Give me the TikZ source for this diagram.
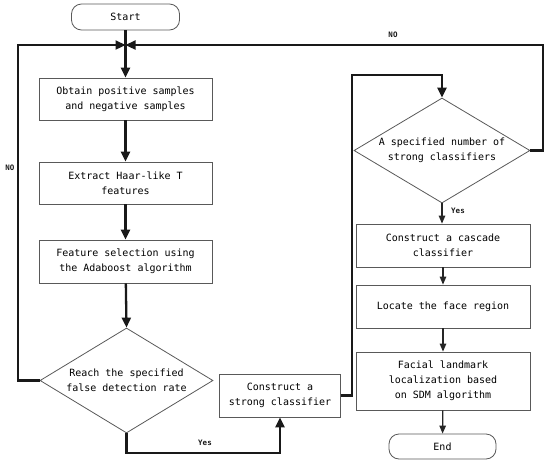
\documentclass[tikz,border=0pt]{standalone}
\usepackage{fontspec}
\setmonofont{DejaVu Sans Mono}
\usetikzlibrary{shapes.geometric,arrows.meta}
\tikzset{
  box/.style={draw=black!65,line width=0.8pt,fill=white,inner sep=0pt,align=center,font=\ttfamily\fontsize{10}{15}\selectfont,text=black},
  term/.style={box,rounded corners=10pt},
  dia/.style={box,shape=diamond,aspect=1.65},
  thk/.style={line width=2.3pt,draw=black!90,-{Triangle[length=10pt,width=9pt]}},
  thkline/.style={line width=2.3pt,draw=black!90},
  thn/.style={line width=1.2pt,draw=black!85,-{Triangle[length=8pt,width=6.5pt]}},
  lbl/.style={font=\ttfamily\bfseries\fontsize{7.5}{9}\selectfont,text=black!90,inner sep=0pt}
}
\begin{document}
\begin{tikzpicture}[x=1pt,y=-1pt]
\useasboundingbox (0,0) rectangle (550,464);
% nodes
\node[term,minimum width=108pt,minimum height=26pt] (start) at (125.5,17) {Start};
\node[box,minimum width=173pt,minimum height=42pt] (b1) at (125.5,99) {Obtain positive samples\\and negative samples};
\node[box,minimum width=173pt,minimum height=42pt] (b2) at (125.5,183) {Extract Haar-like T\\features};
\node[box,minimum width=173pt,minimum height=43pt] (b3) at (125.5,261.5) {Feature selection using\\the Adaboost algorithm};
\node[dia,minimum width=173pt,minimum height=105pt] (d1) at (126.5,380.5) {Reach the specified\\false detection rate};
\node[box,minimum width=121pt,minimum height=43pt] (strong) at (280,395.5) {Construct a\\strong classifier};
\node[dia,minimum width=176pt,minimum height=105pt] (d2) at (442,150.5) {A specified number of\\strong classifiers};
\node[box,minimum width=174pt,minimum height=43pt] (casc) at (443,245.5) {Construct a cascade\\classifier};
\node[box,minimum width=174pt,minimum height=43pt] (loc) at (443,306.5) {Locate the face region};
\node[box,minimum width=174pt,minimum height=58pt] (fac) at (443,381) {Facial landmark\\localization based\\on SDM algorithm};
\node[term,minimum width=107pt,minimum height=25pt] (end) at (442.5,446.5) {End};
\coordinate (m) at (125.5,45);
% connectors
\draw[thkline] (start.south) -- (m);
\draw[thk] (m) -- (b1.north);
\draw[thk] (b1) -- (b2);
\draw[thk] (b2) -- (b3);
\draw[thk] (b3) -- (d1.north);
\draw[thk] (d1.west) -- (18,380.5) -- (18,45) -- (m);
\draw[thk] (d2.east) -- (543,150.5) -- (543,45) -- (m);
\draw[thk] (d1.south) -- (126.5,453) -- (280,453) -- (strong.south);
\draw[thk] (strong.east) -- (352,395.5) -- (352,75) -- (442,75) -- (d2.north);
\draw[thn] (d2.south) -- (d2.south |- casc.north);
\draw[thn] (casc) -- (loc);
\draw[thn] (loc) -- (fac);
\draw[thn] (fac) -- (end);
% labels
\node[lbl] (no1) at (10,168) {NO};
\node[lbl] (no2) at (393,35) {NO};
\node[lbl] (yes1) at (205,443) {Yes};
\node[lbl] (yes2) at (458,211) {Yes};
\end{tikzpicture}
\end{document}
